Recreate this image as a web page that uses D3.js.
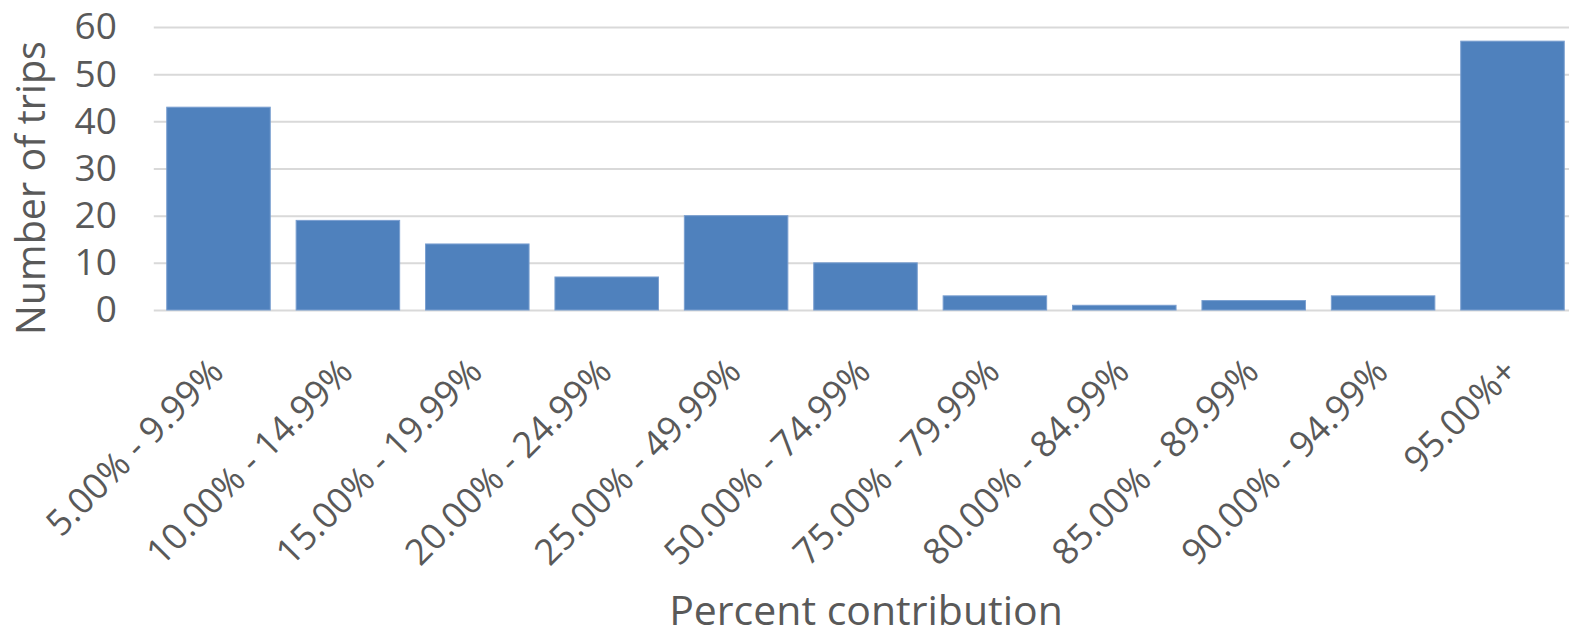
<!DOCTYPE html>
<html><head><meta charset="utf-8">
<script src="https://cdn.jsdelivr.net/npm/d3@7"></script>
<style>body{margin:0;background:#fff}svg{display:block}</style>
</head><body>
<svg id="c" width="1569" height="637"></svg>
<script>
const categories = ["5.00% - 9.99%","10.00% - 14.99%","15.00% - 19.99%","20.00% - 24.99%","25.00% - 49.99%","50.00% - 74.99%","75.00% - 79.99%","80.00% - 84.99%","85.00% - 89.99%","90.00% - 94.99%","95.00%+"];
const trips = [43,19,14,7,20,10,3,1,2,3,57];
const yTicks = [0,10,20,30,40,50,60];

(function(){
const svg = d3.select("#c");
const mLeft = 153.8, mRight = 1577.2, mTop = 27, mBottom = 310;
const font = "'Open Sans', sans-serif";
const txt = "#595959";

const x = d3.scaleBand().domain(categories).range([mLeft, mRight]).paddingInner(0.2).paddingOuter(0.1);
const y = d3.scaleLinear().domain([0,60]).range([mBottom, mTop]);

const yAxis = svg.append("g").attr("transform",`translate(${mLeft},0)`)
  .call(d3.axisLeft(y).tickValues(yTicks).tickSize(-(1569-mLeft)).tickPadding(37));
yAxis.select(".domain").remove();
yAxis.selectAll(".tick line").attr("stroke","#d9d9d9").attr("stroke-width",2);
yAxis.selectAll(".tick text").attr("fill",txt).style("font-family",font).style("font-size","37px");

svg.append("g").selectAll("rect").data(trips).join("rect")
  .attr("x",(d,i)=>x(categories[i]))
  .attr("width",x.bandwidth())
  .attr("y",d=>y(d))
  .attr("height",d=>y(0)-y(d))
  .attr("fill","#4f81bd").attr("stroke","#7a9fd0").attr("stroke-width",1);

const xAxis = svg.append("g").attr("transform",`translate(0,${mBottom})`)
  .call(d3.axisBottom(x).tickSize(0).tickPadding(0));
xAxis.select(".domain").remove();
xAxis.selectAll(".tick text")
  .attr("fill",txt).style("font-family",font).style("font-size","36px")
  .attr("text-anchor","end").attr("dy",null).attr("y",0)
  .attr("transform","translate(7,64) rotate(-45)");

svg.append("text").attr("x",866).attr("y",625).attr("text-anchor","middle")
  .attr("fill",txt).style("font-family",font).style("font-size","41px").text("Percent contribution");
svg.append("text").attr("transform","translate(45,188) rotate(-90)").attr("text-anchor","middle")
  .attr("fill",txt).style("font-family",font).style("font-size","39.5px").text("Number of trips");
})();
</script>
</body></html>
